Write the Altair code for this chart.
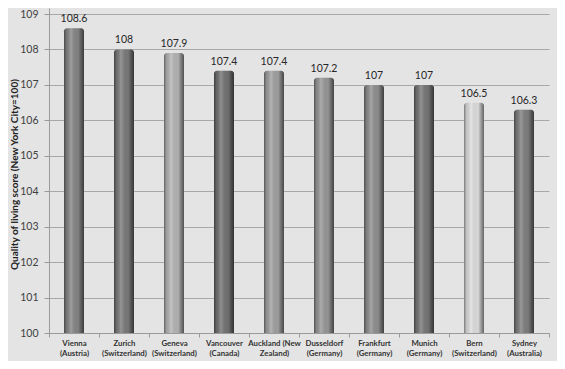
import altair as alt
import pandas as pd

cities = ["Vienna\n(Austria)", "Zurich\n(Switzerland)", "Geneva\n(Switzerland)",
          "Vancouver\n(Canada)", "Auckland (New\nZealand)", "Dusseldorf\n(Germany)",
          "Frankfurt\n(Germany)", "Munich\n(Germany)", "Bern\n(Switzerland)",
          "Sydney\n(Australia)"]
scores = [108.6, 108, 107.9, 107.4, 107.4, 107.2, 107, 107, 106.5, 106.3]
labels = ["108.6", "108", "107.9", "107.4", "107.4", "107.2", "107", "107", "106.5", "106.3"]
bar_colors = ["#858585", "#7a7a7a", "#b4b4b4", "#727272", "#a0a0a0",
              "#979797", "#8f8f8f", "#777777", "#dedede", "#7e7e7e"]
y_ticks = [100, 101, 102, 103, 104, 105, 106, 107, 108, 109]

df = pd.DataFrame({"city": cities, "score": scores, "label": labels, "col": bar_colors})

FONT = "Lato"
BG = "#e4e4e4"

x = alt.X("city:N", sort=cities, title=None,
          scale=alt.Scale(range=[0, 500], paddingInner=0, paddingOuter=0),
          axis=alt.Axis(labelAngle=0, labelExpr="split(datum.label, '\\n')",
                        labelFont=FONT, labelFontWeight="bold", labelFontSize=7.8,
                        labelColor="#333333", labelLineHeight=10.5, labelPadding=2,
                        tickBand="extent", tickSize=4, tickColor="#9a9a9a",
                        domainColor="#9a9a9a", grid=False))
y = alt.Y("score:Q", title="Quality of living score (New York City=100)",
          scale=alt.Scale(domain=[100, 109.17], nice=False, zero=False),
          axis=alt.Axis(values=y_ticks, format="d", labelFont=FONT, labelFontSize=10.5,
                        labelColor="#404040", labelPadding=6, tickSize=5,
                        tickColor="#9a9a9a", domainColor="#9a9a9a",
                        gridColor="#a8a8a8", grid=True,
                        titleFont=FONT, titleFontWeight="bold", titleFontSize=10,
                        titleColor="#222222", titleX=-35, titleY=166,
                        titleAngle=-90, titleBaseline="middle", titleAlign="center"))

base = alt.Chart(df)

bars = base.mark_bar(size=20, cornerRadiusTopLeft=3, cornerRadiusTopRight=3).encode(
    x=x, y=y, y2=alt.datum(100), color=alt.Color("col:N", scale=None))

shade = base.mark_bar(
    size=20, cornerRadiusTopLeft=3, cornerRadiusTopRight=3,
    color=alt.Gradient(
        gradient="linear", x1=0, x2=1, y1=0, y2=0,
        stops=[
            alt.GradientStop(offset=0, color="rgba(0,0,0,0.45)"),
            alt.GradientStop(offset=0.12, color="rgba(0,0,0,0.12)"),
            alt.GradientStop(offset=0.35, color="rgba(255,255,255,0.22)"),
            alt.GradientStop(offset=0.7, color="rgba(0,0,0,0.02)"),
            alt.GradientStop(offset=0.88, color="rgba(0,0,0,0.35)"),
            alt.GradientStop(offset=1, color="rgba(0,0,0,0.55)"),
        ])).encode(x=x, y=y, y2=alt.datum(100))

text = base.mark_text(baseline="bottom", dy=-4, font=FONT, fontSize=10.5,
                      color="#262626").encode(x=x, y=y, text="label:N")

chart = alt.layer(bars, shade, text).properties(
    width=508, height=325,
    autosize=alt.AutoSizeParams(type="none"),
    padding={"left": 41, "top": 0, "right": 0, "bottom": 28},
    background=BG,
).configure_view(fill=BG, stroke=None)

chart.save("out.html", embed_options={"renderer": "svg", "actions": False})
